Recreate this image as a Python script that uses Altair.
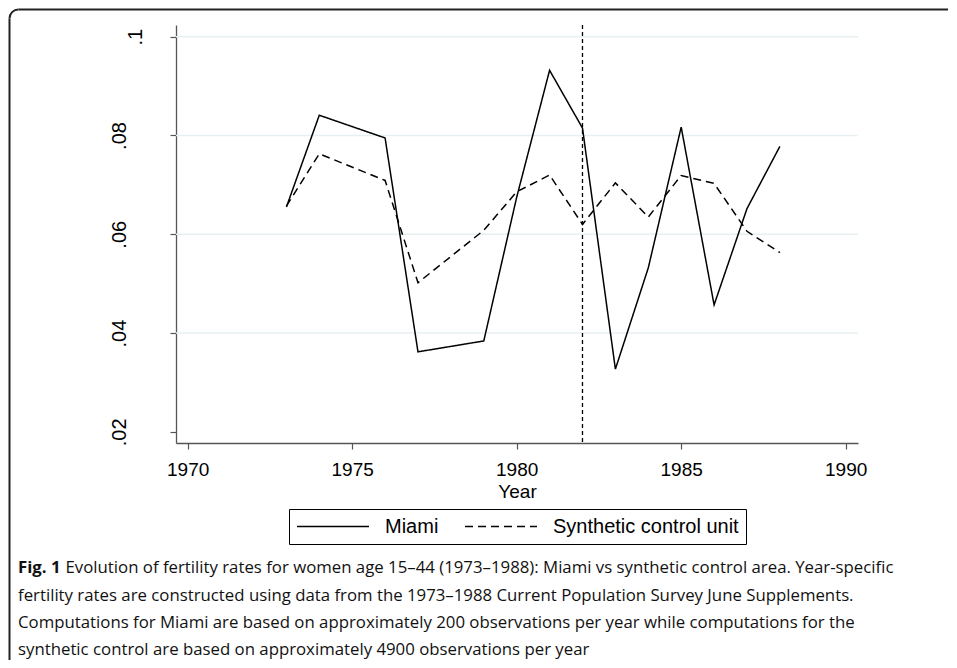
import altair as alt
import pandas as pd
import math

# ---- data ----
years_miami = [1973, 1974, 1976, 1977, 1979, 1980, 1981, 1982, 1983, 1984, 1985, 1986, 1987, 1988]
rate_miami = [0.0655, 0.0841, 0.0795, 0.0362, 0.0384, 0.0675, 0.0932, 0.0815, 0.0327, 0.0532, 0.0817, 0.0457, 0.0652, 0.0778]
years_synth = [1973, 1974, 1976, 1977, 1979, 1980, 1981, 1982, 1983, 1984, 1985, 1986, 1987, 1988]
rate_synth = [0.0657, 0.0763, 0.0709, 0.0502, 0.0608, 0.0686, 0.0720, 0.0620, 0.0704, 0.0635, 0.0719, 0.0703, 0.0606, 0.0563]
series_names = ["Miami", "Synthetic control unit"]
x_ticks = [1970, 1975, 1980, 1985, 1990]
y_ticks = [0.02, 0.04, 0.06, 0.08, 0.1]
grid_values = [0.04, 0.06, 0.08, 0.1]
treatment_year = [1982]
caption_bold = "Fig. 1"
caption_lines = [
    "Evolution of fertility rates for women age 15\u201344 (1973\u20131988): Miami vs synthetic control area. Year-specific",
    "fertility rates are constructed using data from the 1973\u20131988 Current Population Survey June Supplements.",
    "Computations for Miami are based on approximately 200 observations per year while computations for the",
    "synthetic control are based on approximately 4900 observations per year",
]

# ---- tables ----
lines_df = pd.concat([
    pd.DataFrame({"Year": years_miami, "Rate": rate_miami, "Series": series_names[0]}),
    pd.DataFrame({"Year": years_synth, "Rate": rate_synth, "Series": series_names[1]}),
])
grid_df = pd.DataFrame({"Rate": grid_values})
vline_df = pd.DataFrame({"Year": treatment_year})
one = pd.DataFrame({"k": [0]})

W, H = 682, 418
X_DOM = [1969.645, 1990.374]
Y_DOM = [0.01774, 0.10237]
AX_FONT = "Liberation Sans, Arial, Helvetica, sans-serif"
CAP_FONT = "Open Sans, sans-serif"

xscale = alt.Scale(domain=X_DOM, nice=False, zero=False)
yscale = alt.Scale(domain=Y_DOM, nice=False, zero=False)

x_axis = alt.Axis(
    values=x_ticks, format="d", title="Year", grid=False,
    labelFont=AX_FONT, labelFontSize=19, labelColor="black", labelPadding=11,
    labelFlush=False, tickSize=6, tickColor="#555", tickWidth=1.2,
    domainColor="#555", domainWidth=1.3,
    titleFont=AX_FONT, titleFontSize=19, titleFontWeight="normal",
    titleColor="black", titlePadding=3,
)
y_axis = alt.Axis(
    values=y_ticks, title=None, grid=False,
    labelExpr="replace(format(datum.value, '.2~f'), '0.', '.')",
    labelAngle=270, labelAlign="center", labelBaseline="bottom",
    labelFont=AX_FONT, labelFontSize=20, labelColor="black",
    labelPadding={"condition": {"test": "datum.value > 0.09", "value": 25}, "value": 41},
    labelFlush=False, tickSize=6, tickColor="#555", tickWidth=1.2,
    domainColor="#555", domainWidth=1.3,
)

grid = alt.Chart(grid_df).mark_rule(color="#e8eff2", strokeWidth=1.5).encode(
    y=alt.Y("Rate:Q", scale=yscale, axis=y_axis),
    x=alt.value(0),
    x2=alt.value(W),
)

vline = alt.Chart(vline_df).mark_rule(color="black", strokeWidth=1.3, strokeDash=[4, 3]).encode(
    x=alt.X("Year:Q", scale=xscale, axis=x_axis),
    y=alt.value(0),
    y2=alt.value(H),
)

lines = alt.Chart(lines_df).mark_line(color="black", strokeWidth=1.5).encode(
    x=alt.X("Year:Q", scale=xscale, axis=x_axis),
    y=alt.Y("Rate:Q", scale=yscale, axis=y_axis),
    strokeDash=alt.StrokeDash(
        "Series:N",
        scale=alt.Scale(domain=series_names, range=[[1, 0], [8, 5]]),
        legend=alt.Legend(
            orient="none", legendX=113, legendY=484, direction="horizontal",
            title=None, strokeColor="black", fillColor="white", padding=7,
            symbolType="stroke", symbolSize=5184, symbolStrokeWidth=1.5,
            symbolStrokeColor="black", labelFont=AX_FONT, labelFontSize=20,
            labelColor="black", labelOffset=15, columnPadding=25, clipHeight=21,
            labelLimit=0,
        ),
    ),
    order=alt.Order("Year:Q"),
)

# outer rounded frame (only top and left edges are inside the picture)
FR_X, FR_Y, FR_R = -166.5, -15.5, 9
frame_top = alt.Chart(one).mark_rule(color="#222", strokeWidth=2).encode(
    x=alt.value(FR_X + FR_R), x2=alt.value(772), y=alt.value(FR_Y)
)
frame_left = alt.Chart(one).mark_rule(color="#222", strokeWidth=2).encode(
    x=alt.value(FR_X), y=alt.value(FR_Y + FR_R), y2=alt.value(640)
)
frame_corner = alt.Chart(one).mark_arc(
    innerRadius=FR_R - 1, outerRadius=FR_R + 1, theta=1.5 * math.pi, theta2=2 * math.pi,
    color="#222",
).encode(x=alt.value(FR_X + FR_R), y=alt.value(FR_Y + FR_R))

cap_x = -158
cap_y = [548, 576, 603, 630]
cap_size = 16.8
bold = alt.Chart(one).mark_text(
    align="left", baseline="alphabetic", font=CAP_FONT, fontSize=cap_size,
    fontWeight="bold", color="#111"
).encode(x=alt.value(cap_x), y=alt.value(cap_y[0]), text=alt.value(caption_bold))

cap_layers = []
for i, line in enumerate(caption_lines):
    xoff = cap_x + (47.5 if i == 0 else 0)
    cap_layers.append(
        alt.Chart(one).mark_text(
            align="left", baseline="alphabetic", font=CAP_FONT, fontSize=cap_size,
            color="#111"
        ).encode(x=alt.value(xoff), y=alt.value(cap_y[i]), text=alt.value(line))
    )

chart = alt.layer(
    grid, vline, lines, frame_top, frame_left, frame_corner, bold, *cap_layers
).properties(
    width=W, height=H,
    autosize=alt.AutoSizeParams(type="none"),
    padding={"left": 168, "top": 17, "right": 91, "bottom": 217},
    background="white",
).configure_view(stroke=None)

chart.save("out.html", embed_options={"renderer": "svg", "actions": False})
